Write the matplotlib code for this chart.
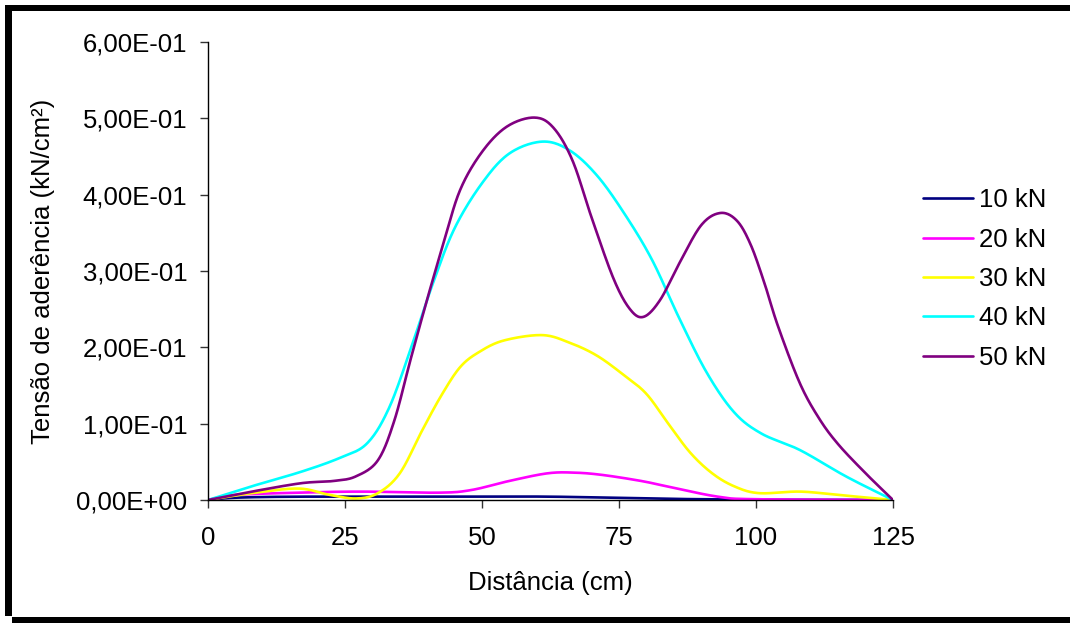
import numpy as np
import matplotlib
matplotlib.use("Agg")
import matplotlib.pyplot as plt
from matplotlib.patches import Rectangle
from matplotlib.ticker import FuncFormatter

plt.rcParams['font.family'] = ['Liberation Sans', 'DejaVu Sans']

# data (x in cm, y in kN/cm2)
x10 = [0, 5, 15, 30, 45, 60, 70, 80, 90, 100, 125]
y10 = [0, 0.003, 0.0043, 0.0044, 0.0044, 0.0045, 0.0035, 0.002, 0.001, 0.0005, 0]

x20 = [0, 5, 17, 28, 42, 48, 55, 62, 67, 72, 79, 84, 93, 100, 125]
y20 = [0, 0.0066, 0.0097, 0.011, 0.0096, 0.013, 0.025, 0.035, 0.0358, 0.0328,
       0.025, 0.0175, 0.0044, 0.001, 0]

x30 = [0, 8, 16.5, 22, 27, 31, 35, 39, 42.5, 46, 49.5, 54, 61, 66, 71, 76, 80,
       84, 88, 92, 96, 100.5, 108, 115, 125]
y30 = [0, 0.009, 0.015, 0.007, 0.002, 0.009, 0.035, 0.09, 0.136, 0.174, 0.194,
       0.209, 0.216, 0.206, 0.189, 0.163, 0.139, 0.10, 0.062, 0.035, 0.018,
       0.009, 0.011, 0.0066, 0]

x40 = [0, 8, 17, 24, 29, 33, 37, 41, 45, 50, 55, 61, 66, 71, 76, 81, 86, 91,
       96, 101, 108, 116.5, 125]
y40 = [0, 0.018, 0.037, 0.055, 0.074, 0.12, 0.198, 0.283, 0.356, 0.415, 0.454,
       0.4695, 0.458, 0.425, 0.375, 0.315, 0.238, 0.167, 0.115, 0.087, 0.0655,
       0.0306, 0]

x50 = [0, 8, 17, 23, 27, 31, 34, 37, 40, 43, 46, 50, 54.5, 59.5, 63, 66.5, 70,
       74, 77, 79.5, 82.5, 86, 90, 93.5, 96.5, 99, 101.5, 104, 108, 111.5, 115,
       120, 125]
y50 = [0, 0.011, 0.022, 0.025, 0.031, 0.052, 0.104, 0.185, 0.263, 0.337, 0.406,
       0.456, 0.489, 0.501, 0.488, 0.445, 0.37, 0.29, 0.25, 0.240, 0.262, 0.31,
       0.36, 0.376, 0.366, 0.335, 0.285, 0.228, 0.153, 0.107, 0.073, 0.035, 0]

labels = ["10 kN", "20 kN", "30 kN", "40 kN", "50 kN"]
colors = ["#000080", "#FF00FF", "#FFFF00", "#00FFFF", "#800080"]
series = [(x10, y10), (x20, y20), (x30, y30), (x40, y40), (x50, y50)]


def smooth(x, y, n=24):
    # excel-like smoothed line: bezier segments with catmull-rom tangents
    p = np.column_stack([x, y]).astype(float)
    ext = np.vstack([p[0], p, p[-1]])
    t = np.linspace(0, 1, n)[:, None]
    out = []
    for i in range(len(p) - 1):
        p0, p1, p2, p3 = ext[i], ext[i + 1], ext[i + 2], ext[i + 3]
        c1 = p1 + (p2 - p0) / 6
        c2 = p2 - (p3 - p1) / 6
        seg = (1 - t) ** 3 * p1 + 3 * (1 - t) ** 2 * t * c1 + 3 * (1 - t) * t ** 2 * c2 + t ** 3 * p2
        out.append(seg if i == 0 else seg[1:])
    s = np.vstack(out)
    return s[:, 0], s[:, 1]


W, H = 1070, 624
fig = plt.figure(figsize=(W / 100, H / 100), dpi=100)
ax = fig.add_axes([208 / W, 1 - 500 / H, 685 / W, 458 / H])

for (xs, ys), c, lab in zip(series, colors, labels):
    sx, sy = smooth(xs, ys)
    ax.plot(sx, sy, color=c, lw=1.9, label=lab, solid_capstyle='round')

ax.set_xlim(0, 125)
ax.set_ylim(0, 0.6)
ax.set_xticks([0, 25, 50, 75, 100, 125])
ax.set_yticks(np.arange(0, 0.61, 0.1))
ax.yaxis.set_major_formatter(FuncFormatter(lambda v, p: f"{v:.2E}".replace(".", ",")))
ax.tick_params(labelsize=18.5, length=6, width=1, color="#333333")
ax.tick_params(axis='y', pad=9)
ax.tick_params(axis='x', pad=13)
for s in ["top", "right"]:
    ax.spines[s].set_visible(False)
for s in ["left", "bottom"]:
    ax.spines[s].set_linewidth(1)
ax.patch.set_alpha(0)

ax.set_xlabel("Distância (cm)", fontsize=18.5)
ax.set_ylabel("Tensão de aderência (kN/cm²)", fontsize=18.5)
ax.xaxis.set_label_coords(0.5, (500 - 583) / 458)
ax.xaxis.label.set_va('center')
ax.yaxis.set_label_coords((43 - 208) / 685, 0.5)
ax.yaxis.label.set_va('center')

ax.legend(loc='center left', bbox_to_anchor=(923 / W, 1 - 279 / H),
          bbox_transform=fig.transFigure, frameon=False, fontsize=18.5,
          handlelength=1.93, handletextpad=0.25, labelspacing=0.6,
          borderpad=0, borderaxespad=0)

# black frame round the chart (left, top and bottom edges)
def bar(x0, y0, x1, y1):
    fig.add_artist(Rectangle((x0 / W, 1 - y1 / H), (x1 - x0) / W, (y1 - y0) / H,
                             transform=fig.transFigure, color="black", lw=0))

bar(5, 5, 1070, 11)
bar(5, 5, 12, 616)
bar(12, 617, 1070, 623)

fig.savefig("out.png", dpi=100)
